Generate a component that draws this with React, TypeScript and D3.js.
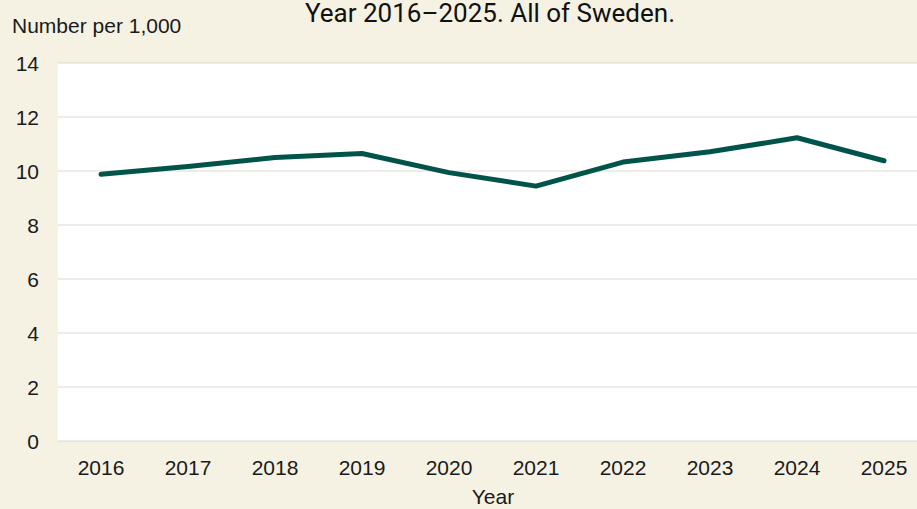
import React from "react";
import * as d3 from "d3";

const years = ["2016", "2017", "2018", "2019", "2020", "2021", "2022", "2023", "2024", "2025"];
const values = [9.88, 10.17, 10.5, 10.65, 9.94, 9.44, 10.33, 10.71, 11.23, 10.38];
const yTicks = [0, 2, 4, 6, 8, 10, 12, 14];

const W = 917;
const H = 509;

export default function App() {
  const x = d3.scalePoint<string>().domain(years).range([101, 884]);
  const y = d3.scaleLinear().domain([0, 14]).range([441, 63]);
  const line = d3
    .line<number>()
    .x((_, i) => x(years[i]) as number)
    .y((d) => y(d));
  const axisFont = "'Liberation Sans', Arial, sans-serif";
  return (
    <svg width={W} height={H} style={{ position: "absolute", left: 0, top: 0 }}>
      <rect x={0} y={0} width={W} height={H} fill="#f5f1e3" />
      <rect x={58} y={63} width={W - 58} height={441 - 63} fill="#ffffff" />
      {yTicks.map((t) => (
        <g key={t}>
          <line x1={58} x2={W} y1={y(t)} y2={y(t)} stroke="#dcd9cf" strokeWidth={1} />
          <text
            x={39}
            y={y(t)}
            dy="0.36em"
            textAnchor="end"
            fontFamily={axisFont}
            fontSize={21}
            fill="#1a1a1a"
          >
            {t}
          </text>
        </g>
      ))}
      {years.map((yr) => (
        <text
          key={yr}
          x={x(yr)}
          y={475}
          textAnchor="middle"
          fontFamily={axisFont}
          fontSize={21}
          fill="#1a1a1a"
        >
          {yr}
        </text>
      ))}
      <path
        d={line(values) || ""}
        fill="none"
        stroke="#00544a"
        strokeWidth={5}
        strokeLinecap="round"
        strokeLinejoin="round"
      />
      <text x={12} y={33} fontFamily={axisFont} fontSize={21} fill="#1a1a1a">
        Number per 1,000
      </text>
      <text x={493} y={504} textAnchor="middle" fontFamily={axisFont} fontSize={21} fill="#1a1a1a">
        Year
      </text>
      <text x={490} y={22} textAnchor="middle" fontFamily="Roboto, sans-serif" fontSize={26} fill="#111">
        Year 2016–2025. All of Sweden.
      </text>
    </svg>
  );
}
